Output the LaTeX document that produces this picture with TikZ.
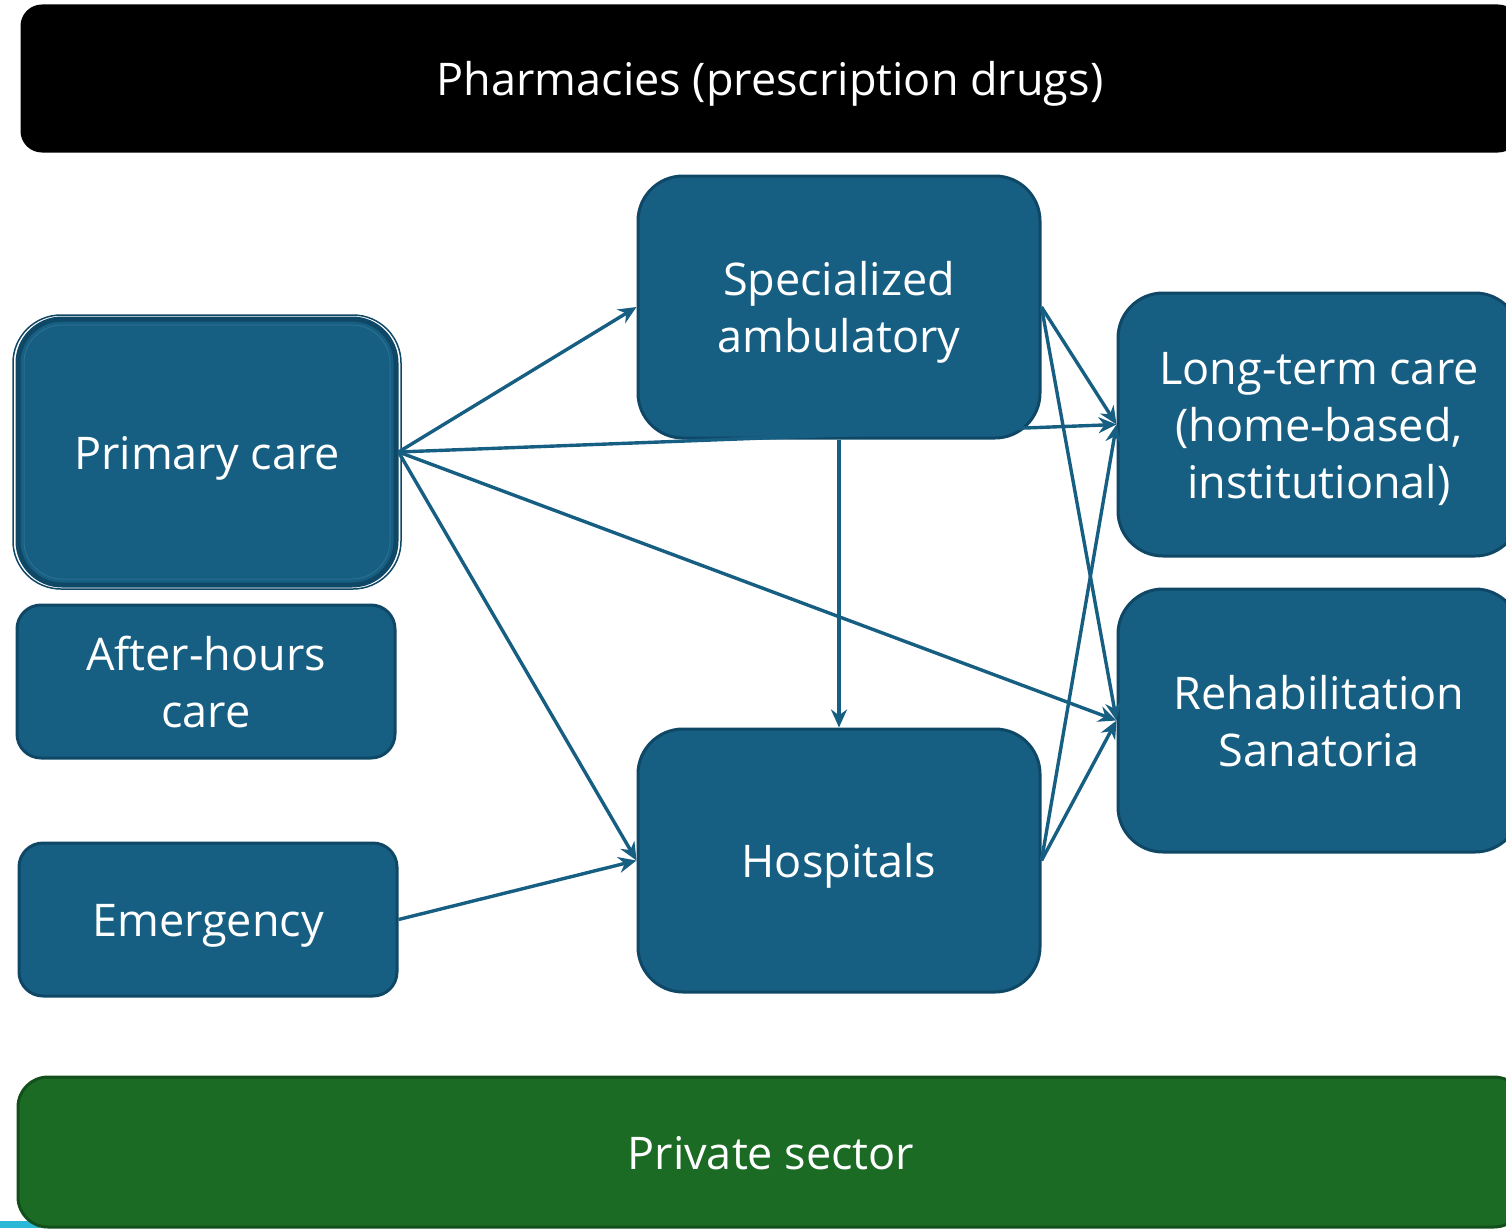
\documentclass[tikz,border=0pt]{standalone}
\usepackage{fontspec}
\setmainfont{Open Sans}
\usetikzlibrary{arrows.meta}
\definecolor{boxblue}{HTML}{175F82}
\definecolor{boxedge}{HTML}{0F4766}
\definecolor{boxinner}{HTML}{2A6F92}
\definecolor{grn}{HTML}{1B6B25}
\definecolor{grnedge}{HTML}{124F1A}
\definecolor{cyanstrip}{HTML}{2BB7D6}
\newcommand\bs{\rule[-12pt]{0pt}{58pt}}
\begin{document}
\lineskiplimit=-100pt
\begin{tikzpicture}[x=1pt,y=-1pt,
  box/.style={draw=boxedge, fill=boxblue, line width=3pt, text=white, align=center,
    inner sep=0pt, font=\fontsize{45}{57}\selectfont},
  conn/.style={draw=boxblue, line width=3.4pt, -{Stealth[length=18pt,width=16pt]}}]
\useasboundingbox (0,0) rectangle (1506,1228);
\clip (0,0) rectangle (1506,1228);

% top bar
\node[box, draw=black, fill=black, minimum width=1496pt, minimum height=145pt,
  rounded corners=20pt] (pharm) at (770,78.5) {\bs Pharmacies (prescription drugs)};

% cyan strip
\fill[cyanstrip] (0,1221) rectangle (40,1228);
% bottom bar
\node[box, draw=grnedge, fill=grn, minimum width=1506pt, minimum height=150pt,
  rounded corners=30pt] (priv) at (771,1152) {\bs Private sector};

% primary care with double outline
\draw[boxedge, line width=1.5pt, rounded corners=48pt] (13,315) rectangle (401,589);
\node[box, line width=5pt, minimum width=378pt, minimum height=266pt,
  rounded corners=44pt] (prim) at (207,452) {\bs Primary care};
\draw[boxinner, line width=1pt, rounded corners=38pt] (24,325) rectangle (390,579);

\node[box, minimum width=378pt, minimum height=153pt, rounded corners=24pt]
  (after) at (206,681.5) {\bs After-hours\\\bs care};
\node[box, minimum width=378pt, minimum height=153pt, rounded corners=24pt]
  (emerg) at (208,919.5) {\bs Emergency};

\node[box, minimum width=402pt, minimum height=262pt, rounded corners=45pt]
  (spec) at (839,307) {\bs Specialized\\\bs ambulatory};
\node[box, minimum width=402pt, minimum height=263pt, rounded corners=45pt]
  (hosp) at (839,860.5) {\bs Hospitals};

\node[box, minimum width=402pt, minimum height=263pt, rounded corners=45pt]
  (ltc) at (1319,424.5) {\bs Long-term care\\\bs (home-based,\\\bs institutional)};
\node[box, minimum width=402pt, minimum height=263pt, rounded corners=45pt]
  (rehab) at (1319,720.5) {\bs Rehabilitation\\\bs Sanatoria};

% connectors
\draw[conn] (prim.east) -- (spec.west);
\draw[conn] (prim.east) -- (ltc.west);
\draw[conn] (prim.east) -- (rehab.west);
\draw[conn] (prim.east) -- (hosp.west);
\draw[conn] (spec.south) -- (hosp.north);
\draw[conn] (spec.east) -- (ltc.west);
\draw[conn] (spec.east) -- (rehab.west);
\draw[conn] (hosp.east) -- (ltc.west);
\draw[conn] (hosp.east) -- (rehab.west);
\draw[conn] (emerg.east) -- (hosp.west);
\end{tikzpicture}
\end{document}
